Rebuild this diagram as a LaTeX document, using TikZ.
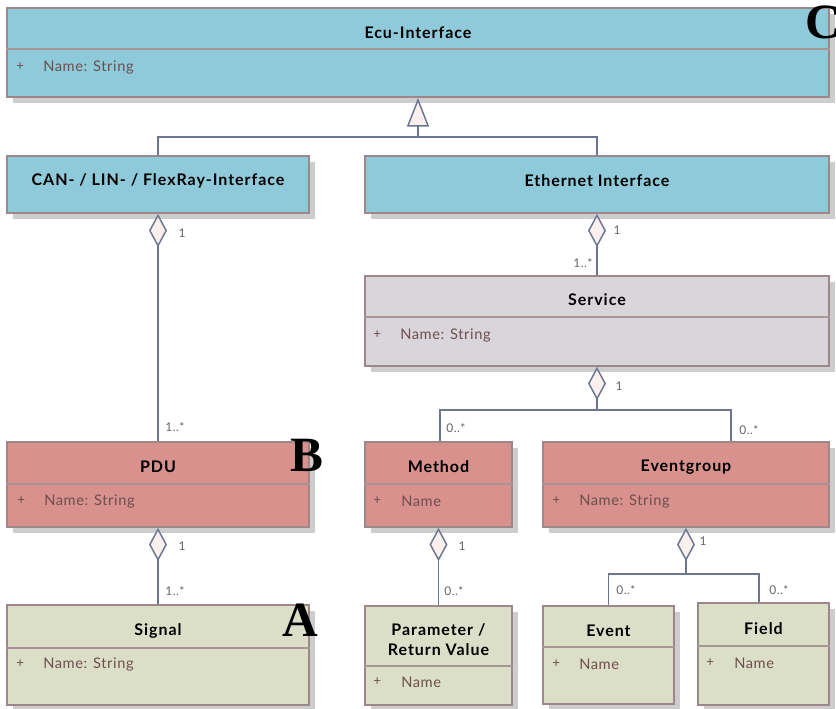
\documentclass[tikz,border=0pt]{standalone}
\usepackage{fontspec}
\setmainfont{Lato}[LetterSpace=4]
\newfontfamily\titlefont{Lato}[LetterSpace=6]
\newfontfamily\tagfont{Liberation Serif}
\usetikzlibrary{arrows.meta,fit,shadows}

\definecolor{ifblue}{HTML}{8FCADA}
\definecolor{pdured}{HTML}{D8918D}
\definecolor{sigreen}{HTML}{DCDFC8}
\definecolor{svgray}{HTML}{DAD5DA}
\definecolor{clsborder}{HTML}{9C8888}
\definecolor{sepcol}{HTML}{A89595}
\definecolor{shadowgray}{HTML}{CDCDCD}
\definecolor{linkcol}{HTML}{6B7594}
\definecolor{dfill}{HTML}{FBF0EC}
\definecolor{attrcol}{HTML}{6E4E4E}
\definecolor{multcol}{HTML}{666666}

\tikzset{
  cls/.style={rectangle, draw=clsborder, line width=1.3pt, inner sep=0pt,
    drop shadow={shadow xshift=4.5pt, shadow yshift=-4.5pt, fill=shadowgray, opacity=1}},
  sepline/.style={draw=sepcol, line width=1pt},
  ttl/.style={font=\titlefont\bfseries\fontsize{12}{14.5}\selectfont, text=black, align=center, inner sep=0pt},
  vis/.style={font=\fontsize{10}{11}\selectfont, text=attrcol, anchor=west, inner sep=0pt},
  attr/.style={font=\fontsize{11}{13}\selectfont, text=attrcol, anchor=west, inner sep=0pt},
  mult/.style={font=\fontsize{9}{10}\selectfont, text=multcol, inner sep=0pt},
  link/.style={draw=linkcol, line width=1.1pt},
  agg/.style={link, -{Diamond[length=25pt, width=13.5pt, fill=dfill, line join=miter]}},
  gen/.style={link, -{Triangle[length=21.5pt, width=16.5pt, fill=dfill, line join=miter]}},
  tag/.style={font=\tagfont\bfseries\fontsize{37}{37}\selectfont, inner sep=0pt}
}

\begin{document}
\begin{tikzpicture}[x=0.75pt, y=-0.75pt]
\useasboundingbox (0,0) rectangle (836,708);

% ---------- classes ----------
\node[cls, fill=ifblue, fit={(7,8) (829,97)}] (ecu) {};
\draw[sepline] (ecu.west |- 0,49) -- (ecu.east |- 0,49);
\node[ttl] (ecuT) at (418,33) {Ecu-Interface};
\node[vis] (ecuV) at (16,67) {+};
\node[attr] (ecuA) at (43,67) {Name: String};

\node[cls, fill=ifblue, fit={(7,156) (309,213)}] (can) {};
\node[ttl] (canT) at (158,181) {CAN- / LIN- / FlexRay-Interface};

\node[cls, fill=ifblue, fit={(365,156) (829,213)}] (eth) {};
\node[ttl] (ethT) at (597,181) {Ethernet Interface};

\node[cls, fill=svgray, fit={(365,276) (829,366)}] (service) {};
\draw[sepline] (service.west |- 0,317) -- (service.east |- 0,317);
\node[ttl] (serviceT) at (597,300) {Service};
\node[vis] (serviceV) at (373,335) {+};
\node[attr] (serviceA) at (400,335) {Name: String};

\node[cls, fill=pdured, fit={(7,442) (309,527)}] (pdu) {};
\draw[sepline] (pdu.west |- 0,484) -- (pdu.east |- 0,484);
\node[ttl] (pduT) at (158,467) {PDU};
\node[vis] (pduV) at (17,501) {+};
\node[attr] (pduA) at (44,501) {Name: String};

\node[cls, fill=pdured, fit={(365,442) (512,527)}] (method) {};
\draw[sepline] (method.west |- 0,484) -- (method.east |- 0,484);
\node[ttl] (methodT) at (438.5,467) {Method};
\node[vis] (methodV) at (373,501) {+};
\node[attr] (methodA) at (401,501) {Name};

\node[cls, fill=pdured, fit={(543,442) (829,527)}] (evgrp) {};
\draw[sepline] (evgrp.west |- 0,484) -- (evgrp.east |- 0,484);
\node[ttl] (evgrpT) at (686,467) {Eventgroup};
\node[vis] (evgrpV) at (552,501) {+};
\node[attr] (evgrpA) at (579,501) {Name: String};

\node[cls, fill=sigreen, fit={(7,605) (309,705)}] (signal) {};
\draw[sepline] (signal.west |- 0,648) -- (signal.east |- 0,648);
\node[ttl] (signalT) at (158,631) {Signal};
\node[vis] (signalV) at (16,664) {+};
\node[attr] (signalA) at (43,664) {Name: String};

\node[cls, fill=sigreen, fit={(365,606) (512,705)}] (param) {};
\draw[sepline] (param.west |- 0,666) -- (param.east |- 0,666);
\node[ttl] (paramT) at (438.5,639.5) {Parameter /\\Return Value};
\node[vis] (paramV) at (373,682) {+};
\node[attr] (paramA) at (401,682) {Name};

\node[cls, fill=sigreen, fit={(543,606) (674,704)}] (event) {};
\draw[sepline] (event.west |- 0,647) -- (event.east |- 0,647);
\node[ttl] (eventT) at (608.5,631) {Event};
\node[vis] (eventV) at (552,664) {+};
\node[attr] (eventA) at (579,664) {Name};

\node[cls, fill=sigreen, fit={(698,603) (829,705)}] (field) {};
\draw[sepline] (field.west |- 0,646) -- (field.east |- 0,646);
\node[ttl] (fieldT) at (763.5,629) {Field};
\node[vis] (fieldV) at (706,663) {+};
\node[attr] (fieldA) at (734,663) {Name};

% ---------- generalization ----------
\coordinate (genj) at (418,137);
\draw[link] (can.north) |- (genj) -| (eth.north);
\draw[gen] (genj) -- (ecu.south);

% ---------- aggregations ----------
\draw[agg] (pdu.north) -- (can.south);
\node[mult] (m1) at (182,233) {1};
\node[mult] (m2) at (175,427) {1..*};

\draw[agg] (service.north) -- (eth.south);
\node[mult] (m3) at (617,230) {1};
\node[mult] (m4) at (583,263) {1..*};

\coordinate (sj) at (597,410);
\coordinate (mtop) at (method.north -| 440,0);
\coordinate (etop) at (evgrp.north -| 731,0);
\draw[agg] (sj) -- (service.south);
\draw[link] (mtop) |- (sj) -| (etop);
\node[mult] (m5) at (619,386) {1};
\node[mult] (m6) at (456,428) {0..*};
\node[mult] (m7) at (749,430) {0..*};

\draw[agg] (signal.north) -- (pdu.south);
\node[mult] (m8) at (182,546) {1};
\node[mult] (m9) at (175,591) {1..*};

\draw[agg] (param.north) -- (method.south);
\node[mult] (m10) at (462,546) {1};
\node[mult] (m11) at (454,591) {0..*};

\coordinate (ej) at (686,574);
\coordinate (ftop) at (field.north -| 759,0);
\draw[agg] (ej) -- (evgrp.south);
\draw[link] (event.north) |- (ej) -| (ftop);
\node[mult] (m12) at (703,541) {1};
\node[mult] (m13) at (626,590) {0..*};
\node[mult] (m14) at (779,590) {0..*};

% ---------- corner tags ----------
\node[tag] (tagC) at (823,22) {C};
\node[tag] (tagB) at (307,455) {B};
\node[tag] (tagA) at (300,620) {A};
\end{tikzpicture}
\end{document}
